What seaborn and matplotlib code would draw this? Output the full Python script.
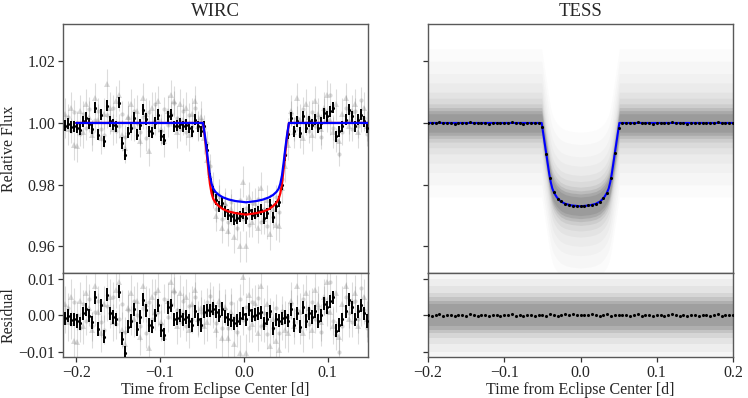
import matplotlib
matplotlib.use("Agg")
import numpy as np
import matplotlib.pyplot as plt
import seaborn as sns

# ---- WIRC binned light curve ----
wirc_time = [
    -0.2135, -0.2099, -0.2063, -0.2027, -0.1991, -0.1955, -0.1919, -0.1883, -0.1847, -0.1811,
    -0.1775, -0.1739, -0.1703, -0.1667, -0.1631, -0.1595, -0.1559, -0.1523, -0.1487, -0.1451,
    -0.1415, -0.1379, -0.1343, -0.1307, -0.1271, -0.1235, -0.1199, -0.1163, -0.1127, -0.1091,
    -0.1055, -0.1019, -0.0983, -0.0947, -0.0911, -0.0875, -0.0839, -0.0803, -0.0767, -0.0731,
    -0.0695, -0.0659, -0.0623, -0.0587, -0.0551, -0.0515, -0.0479, -0.0443, -0.0407, -0.0371,
    -0.0335, -0.0299, -0.0263, -0.0227, -0.0191, -0.0155, -0.0119, -0.0083, -0.0047, -0.0011,
    0.0025, 0.0061, 0.0097, 0.0133, 0.0169, 0.0205, 0.0241, 0.0277, 0.0313, 0.0349,
    0.0385, 0.0421, 0.0457, 0.0493, 0.0529, 0.0565, 0.0601, 0.0637, 0.0673, 0.0709,
    0.0745, 0.0781, 0.0817, 0.0853, 0.0889, 0.0925, 0.0961, 0.0997, 0.1033, 0.1069,
    0.1105, 0.1141, 0.1177, 0.1213, 0.1249, 0.1285, 0.1321, 0.1357, 0.1393, 0.1429,
    0.1465,
]
wirc_flux = [
    0.9991, 0.9998, 0.9987, 0.9989, 0.9984, 0.9978, 1.0005, 1.0016, 0.9998, 0.9981,
    1.0049, 0.9962, 1.0027, 0.9941, 1.0056, 1.0005, 0.9995, 0.9989, 1.0065, 0.9935,
    0.9897, 0.9968, 0.9984, 1.0016, 0.9962, 0.9995, 1.0043, 1.0013, 0.9973, 0.9968,
    1.0000, 1.0027, 0.9959, 0.9946, 1.0022, 1.0027, 0.9989, 0.9991, 0.9998, 0.9989,
    0.9995, 0.9984, 0.9973, 1.0011, 0.9989, 0.9973, 0.9989, 0.9914, 0.9820, 0.9778,
    0.9751, 0.9730, 0.9741, 0.9714, 0.9703, 0.9697, 0.9687, 0.9692, 0.9697, 0.9708,
    0.9692, 0.9719, 0.9703, 0.9708, 0.9714, 0.9719, 0.9692, 0.9708, 0.9735, 0.9695,
    0.9730, 0.9745, 0.9800, 0.9895, 0.9965, 1.0016, 0.9973, 1.0005, 0.9968, 1.0022,
    0.9984, 1.0005, 0.9995, 1.0011, 0.9984, 1.0000, 1.0032, 1.0022, 1.0038, 1.0049,
    0.9957, 0.9973, 0.9989, 1.0011, 1.0043, 1.0022, 0.9989, 1.0011, 1.0027, 1.0005,
    0.9984,
]
# fitted (red) model at the bin times, used for the residuals
wirc_model_bins = [1.0] * 46 + [
    0.9980, 0.9900, 0.9808, 0.9760, 0.9741, 0.9731, 0.9724, 0.9718, 0.9714, 0.9711,
    0.9709, 0.9707, 0.9705, 0.9704, 0.9703, 0.9704, 0.9705, 0.9707, 0.9709, 0.9711,
    0.9714, 0.9718, 0.9724, 0.9731, 0.9741, 0.9760, 0.9808, 0.9900, 0.9980,
] + [1.0] * 26

# unbinned WIRC points (two light grey sets)
wirc_raw_tri = [
    1.0030, 0.9980, 1.0050, 0.9930, 0.9925, 1.0040, 0.9970, 1.0060, 1.0020, 0.9960,
    1.0080, 1.0010, 0.9950, 1.0030, 1.0125, 1.0050, 0.9980, 1.0070, 1.0090, 0.9960,
    0.9920, 1.0020, 1.0060, 0.9990, 1.0040, 0.9940, 1.0080, 1.0030, 0.9910, 1.0050,
    1.0010, 1.0070, 0.9980, 0.9940, 1.0040, 1.0090, 1.0070, 0.9970, 1.0060, 1.0010,
    1.0050, 0.9960, 1.0030, 1.0070, 0.9990, 1.0020, 0.9950, 0.9880, 0.9830, 0.9790,
    0.9700, 0.9770, 0.9660, 0.9740, 0.9650, 0.9720, 0.9630, 0.9700, 0.9600, 0.9810,
    0.9600, 0.9760, 0.9680, 0.9740, 0.9660, 0.9790, 0.9690, 0.9750, 0.9640, 0.9720,
    0.9670, 0.9665, 0.9790, 0.9860, 0.9930, 1.0040, 0.9970, 1.0080, 1.0010, 0.9950,
    1.0060, 1.0020, 0.9960, 1.0070, 1.0030, 0.9980, 1.0050, 1.0090, 1.0010, 0.9970,
    1.0060, 0.9940, 1.0030, 1.0080, 0.9990, 1.0040, 1.0060, 0.9970, 1.0020, 1.0050,
    0.9990,
]
wirc_raw_circ = [
    0.9990, 1.0020, 0.9975, 1.0035, 1.0000, 0.9965, 1.0030, 0.9985, 1.0045, 0.9970,
    1.0010, 1.0040, 0.9980, 0.9960, 1.0025, 1.0005, 1.0050, 0.9975, 0.9990, 1.0030,
    0.9955, 1.0015, 0.9985, 1.0040, 1.0000, 0.9970, 1.0020, 0.9950, 1.0035, 0.9990,
    1.0060, 1.0010, 0.9975, 1.0045, 0.9995, 1.0030, 1.0065, 1.0015, 0.9980, 1.0040,
    0.9970, 1.0025, 0.9990, 1.0050, 0.9985, 1.0010, 0.9985, 0.9935, 0.9860, 0.9765,
    0.9720, 0.9760, 0.9690, 0.9735, 0.9680, 0.9745, 0.9705, 0.9660, 0.9750, 0.9690,
    0.9725, 0.9670, 0.9740, 0.9700, 0.9755, 0.9680, 0.9720, 0.9665, 0.9730, 0.9695,
    0.9760, 0.9710, 0.9820, 0.9900, 0.9975, 1.0030, 0.9980, 1.0015, 0.9960, 1.0045,
    1.0000, 0.9975, 1.0035, 0.9990, 1.0020, 0.9955, 1.0040, 1.0010, 1.0090, 0.9985,
    0.9945, 0.9900, 0.9970, 1.0050, 1.0005, 0.9980, 1.0040, 0.9990, 1.0075, 1.0015,
    0.9965,
]
wirc_bin_err = 0.0018
wirc_raw_err = 0.0050

# WIRC model curves: red = WIRC fit, blue = TESS-depth model
wirc_model_time = [
    -0.2000, -0.0488, -0.0465, -0.0445, -0.0425, -0.0405, -0.0385, -0.0365, -0.0340,
    -0.0300, -0.0250, -0.0180, -0.0100, 0.0025, 0.0150, 0.0230, 0.0300, 0.0350,
    0.0390, 0.0415, 0.0435, 0.0455, 0.0475, 0.0495, 0.0515, 0.0538, 0.1480,
]
wirc_model_red = [
    1.0, 1.0, 0.9954, 0.9905, 0.9852, 0.9803, 0.9772, 0.9754, 0.9742,
    0.9731, 0.9721, 0.9713, 0.9708, 0.9703, 0.9708, 0.9713, 0.9721, 0.9731,
    0.9742, 0.9754, 0.9772, 0.9803, 0.9852, 0.9905, 0.9954, 1.0, 1.0,
]
wirc_model_blue = [
    1.0, 1.0, 0.9960, 0.9918, 0.9872, 0.9830, 0.9803, 0.9787, 0.9777,
    0.9767, 0.9759, 0.9752, 0.9747, 0.9743, 0.9747, 0.9752, 0.9759, 0.9767,
    0.9777, 0.9787, 0.9803, 0.9830, 0.9872, 0.9918, 0.9960, 1.0, 1.0,
]

# ---- TESS ----
tess_model_time = [
    -0.2000, -0.0509, -0.0490, -0.0470, -0.0450, -0.0430, -0.0410, -0.0390, -0.0370,
    -0.0345, -0.0310, -0.0260, -0.0200, -0.0120, 0.0000, 0.0120, 0.0200, 0.0260,
    0.0310, 0.0345, 0.0370, 0.0390, 0.0410, 0.0430, 0.0450, 0.0470, 0.0490,
    0.0509, 0.2000,
]
tess_model_flux = [
    1.0, 1.0, 0.9968, 0.9935, 0.9902, 0.9868, 0.9835, 0.9808, 0.9788,
    0.9773, 0.9759, 0.9746, 0.9738, 0.9733, 0.9730, 0.9733, 0.9738, 0.9746,
    0.9759, 0.9773, 0.9788, 0.9808, 0.9835, 0.9868, 0.9902, 0.9935, 0.9968,
    1.0, 1.0,
]
tess_bin_time = [
    -0.200, -0.195, -0.190, -0.185, -0.180, -0.175, -0.170, -0.165, -0.160, -0.155,
    -0.150, -0.145, -0.140, -0.135, -0.130, -0.125, -0.120, -0.115, -0.110, -0.105,
    -0.100, -0.095, -0.090, -0.085, -0.080, -0.075, -0.070, -0.065, -0.060, -0.055,
    -0.050, -0.045, -0.040, -0.035, -0.030, -0.025, -0.020, -0.015, -0.010, -0.005,
    0.000, 0.005, 0.010, 0.015, 0.020, 0.025, 0.030, 0.035, 0.040, 0.045,
    0.050, 0.055, 0.060, 0.065, 0.070, 0.075, 0.080, 0.085, 0.090, 0.095,
    0.100, 0.105, 0.110, 0.115, 0.120, 0.125, 0.130, 0.135, 0.140, 0.145,
    0.150, 0.155, 0.160, 0.165, 0.170, 0.175, 0.180, 0.185, 0.190, 0.195,
    0.200,
]
tess_bin_flux = [
    1.0001, 0.9999, 1.0000, 1.0002, 0.9999, 1.0000, 1.0001, 0.9998, 1.0000, 1.0001,
    0.9999, 1.0002, 1.0000, 0.9999, 1.0001, 1.0000, 0.9998, 1.0001, 1.0000, 0.9999,
    1.0001, 1.0000, 1.0002, 0.9999, 1.0000, 0.9998, 1.0001, 1.0000, 0.9999, 1.0001,
    0.9986, 0.9901, 0.9823, 0.9776, 0.9755, 0.9746, 0.9737, 0.9735, 0.9731, 0.9732,
    0.9730, 0.9731, 0.9733, 0.9733, 0.9739, 0.9744, 0.9757, 0.9774, 0.9821, 0.9903,
    0.9984, 1.0000, 1.0001, 0.9999, 1.0000, 1.0002, 0.9999, 1.0001, 1.0000, 0.9998,
    1.0000, 1.0001, 0.9999, 1.0000, 1.0002, 1.0000, 0.9999, 1.0001, 0.9998, 1.0000,
    1.0001, 0.9999, 1.0000, 1.0001, 0.9999, 1.0000, 1.0002, 0.9999, 1.0000, 1.0001,
    1.0000,
]
tess_bin_resid = [
    0.0001, -0.0001, 0.0000, 0.0002, -0.0001, 0.0000, 0.0001, -0.0002, 0.0000, 0.0001,
    -0.0001, 0.0002, 0.0000, -0.0001, 0.0001, 0.0000, -0.0002, 0.0001, 0.0000, -0.0001,
    0.0001, 0.0000, 0.0002, -0.0001, 0.0000, -0.0002, 0.0001, 0.0000, -0.0001, 0.0001,
    0.0001, -0.0001, 0.0002, 0.0000, -0.0001, 0.0001, 0.0002, 0.0000, 0.0002, 0.0001,
    0.0000, 0.0001, 0.0000, 0.0002, 0.0001, -0.0001, 0.0001, 0.0003, -0.0001, 0.0001,
    0.0000, 0.0000, 0.0001, -0.0001, 0.0000, 0.0002, -0.0001, 0.0001, 0.0000, -0.0002,
    0.0000, 0.0001, -0.0001, 0.0000, 0.0002, 0.0000, -0.0001, 0.0001, -0.0002, 0.0000,
    0.0001, -0.0001, 0.0000, 0.0001, -0.0001, 0.0000, 0.0002, -0.0001, 0.0000, 0.0001,
    0.0000,
]
# spread of the unbinned TESS cloud (half widths, flux units) and layer opacity
tess_spread = [0.024, 0.020, 0.016, 0.013, 0.010, 0.008, 0.0062, 0.0050, 0.0040, 0.0030]
tess_spread_alpha = [0.025, 0.03, 0.035, 0.045, 0.06, 0.08, 0.12, 0.18, 0.25, 0.25]
tess_resid_spread = [0.0125, 0.010, 0.008, 0.0062, 0.0050, 0.0040, 0.0030]
tess_resid_alpha = [0.06, 0.06, 0.08, 0.12, 0.18, 0.25, 0.25]

# ---- style ----
sns.set_theme(style="ticks")
plt.rcParams["font.family"] = ["Liberation Serif", "DejaVu Serif"]
plt.rcParams["mathtext.fontset"] = "stix"
plt.rcParams["axes.edgecolor"] = "0.35"
plt.rcParams["axes.linewidth"] = 1.0
plt.rcParams["xtick.labelsize"] = 11.5
plt.rcParams["ytick.labelsize"] = 11.5
plt.rcParams["axes.labelsize"] = 11.5
plt.rcParams["axes.titlesize"] = 13.5

fig = plt.figure(figsize=(7.48, 3.98), dpi=100)
gs = fig.add_gridspec(
    2, 2, height_ratios=[249, 84], left=0.084, right=0.980,
    top=0.940, bottom=0.103, wspace=0.197, hspace=0,
)
ax_w = fig.add_subplot(gs[0, 0])
ax_wr = fig.add_subplot(gs[1, 0], sharex=ax_w)
ax_t = fig.add_subplot(gs[0, 1], sharey=ax_w)
ax_tr = fig.add_subplot(gs[1, 1], sharex=ax_t, sharey=ax_wr)

wt = np.array(wirc_time)
wf = np.array(wirc_flux)
wm = np.array(wirc_model_bins)
tri = np.array(wirc_raw_tri)
circ = np.array(wirc_raw_circ)

# WIRC flux panel
raw_kw = dict(ls="none", ecolor="0.55", elinewidth=0.8, alpha=0.3, zorder=1)
ax_w.errorbar(wt, tri, yerr=wirc_raw_err, marker="^", ms=4, color="0.5", mew=0, **raw_kw)
ax_w.errorbar(wt, circ, yerr=wirc_raw_err * 0.8, marker="o", ms=3, color="0.5", mew=0, **raw_kw)
ax_w.errorbar(wt, wf, yerr=wirc_bin_err, xerr=0.0009, fmt=".", ms=2.5, color="black",
              ecolor="black", elinewidth=1.4, zorder=3)
sns.lineplot(x=wirc_model_time, y=wirc_model_red, ax=ax_w, color="red", lw=1.6,
             estimator=None, sort=False, zorder=4)
sns.lineplot(x=wirc_model_time, y=wirc_model_blue, ax=ax_w, color="blue", lw=1.6,
             estimator=None, sort=False, zorder=5)

# WIRC residual panel
ax_wr.errorbar(wt, tri - wm, yerr=wirc_raw_err, marker="^", ms=4, color="0.5", mew=0, **raw_kw)
ax_wr.errorbar(wt, circ - wm, yerr=wirc_raw_err * 0.8, marker="o", ms=3, color="0.5", mew=0, **raw_kw)
ax_wr.errorbar(wt, wf - wm, yerr=wirc_bin_err, xerr=0.0009, fmt=".", ms=2.5, color="black",
               ecolor="black", elinewidth=1.4, zorder=3)

# TESS flux panel: unbinned cloud as stacked translucent bands around the model
tm_t = np.array(tess_model_time)
tm_f = np.array(tess_model_flux)
for w, a in zip(tess_spread, tess_spread_alpha):
    ax_t.fill_between(tm_t, tm_f - w, tm_f + w, color="0.45", alpha=a, lw=0, zorder=1)
sns.lineplot(x=tess_model_time, y=tess_model_flux, ax=ax_t, color="blue", lw=1.5,
             estimator=None, sort=False, zorder=3)
sns.scatterplot(x=tess_bin_time, y=tess_bin_flux, ax=ax_t, color="black", s=5,
                linewidth=0, zorder=4)

# TESS residual panel
edge = [tess_bin_time[0], tess_bin_time[-1]]
for w, a in zip(tess_resid_spread, tess_resid_alpha):
    ax_tr.fill_between(edge, [-w, -w], [w, w], color="0.45", alpha=a, lw=0, zorder=1)
sns.scatterplot(x=tess_bin_time, y=tess_bin_resid, ax=ax_tr, color="black", s=5,
                linewidth=0, zorder=4)

# axes limits / labels
ax_w.set_xlim(-0.216, 0.148)
ax_w.set_ylim(0.9514, 1.0321)
ax_wr.set_ylim(-0.0115, 0.0116)
ax_t.set_xlim(-0.2, 0.2)

ax_w.set_yticks([0.96, 0.98, 1.00, 1.02])
ax_wr.set_yticks([-0.01, 0.0, 0.01])
ax_wr.set_xticks([-0.2, -0.1, 0.0, 0.1])
ax_tr.set_xticks([-0.2, -0.1, 0.0, 0.1, 0.2])

ax_w.set_title("WIRC")
ax_t.set_title("TESS")
ax_w.set_ylabel("Relative Flux")
ax_wr.set_ylabel("Residual")
ax_wr.set_xlabel("Time from Eclipse Center [d]", labelpad=1)
ax_tr.set_xlabel("Time from Eclipse Center [d]", labelpad=1)
for ax in (ax_w, ax_t):
    ax.tick_params(axis="x", bottom=False, labelbottom=False)
for ax in (ax_t, ax_tr):
    ax.tick_params(axis="y", labelleft=False)
for ax in (ax_w, ax_wr, ax_t, ax_tr):
    ax.tick_params(length=3.5, width=0.9, color="0.2", pad=2)
ax_w.yaxis.set_label_coords(-0.15, 0.5)
ax_wr.yaxis.set_label_coords(-0.15, 0.5)

fig.savefig("out.png", dpi=100)
